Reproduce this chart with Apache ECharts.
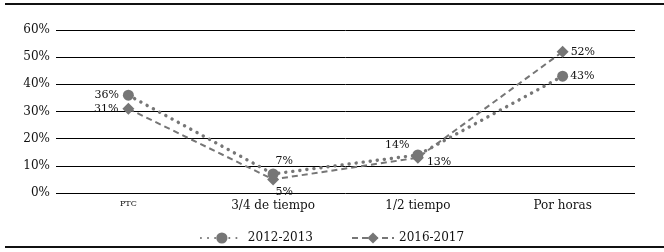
<!DOCTYPE html>
<html>
<head>
<meta charset="utf-8">
<script src="https://cdn.jsdelivr.net/npm/echarts@6/dist/echarts.min.js"></script>
<style>
  html, body { margin: 0; padding: 0; background: #fff; }
  #chart { width: 664px; height: 252px; }
</style>
</head>
<body>
<div id="chart"></div>
<script>
// datos (porcentajes)
const categorias = ['PTC', '3/4 de tiempo', '1/2 tiempo', 'Por horas'];
const serie2012 = [36, 7, 14, 43];
const serie2016 = [31, 5, 13, 52];
const ticksY = [0, 10, 20, 30, 40, 50, 60];

const fuente = 'DejaVu Serif';
const gris = '#767676';

// posición de cada etiqueta de dato
const etiq2012 = [
  { position: 'left', distance: 4 },
  { position: 'top', offset: [11, 3] },
  { position: 'left', offset: [2, -10] },
  { position: 'right', distance: 2 }
];
const etiq2016 = [
  { position: 'left', distance: 4 },
  { position: 'bottom', offset: [11, -4] },
  { position: 'right', offset: [-2, 4] },
  { position: 'right', distance: 2 }
];

const chart = echarts.init(document.getElementById('chart'));

const option = {
  animation: false,
  textStyle: { fontFamily: fuente, color: '#111' },
  grid: { left: 56, right: 29, top: 30, bottom: 59 },
  legend: {
    top: 227,
    left: 'center',
    itemWidth: 42,
    itemHeight: 14,
    itemGap: 38,
    textStyle: { fontFamily: fuente, fontSize: 12, color: '#111' },
    data: ['2012-2013', '2016-2017']
  },
  xAxis: {
    type: 'category',
    data: categorias,
    boundaryGap: true,
    axisLine: { show: false },
    axisTick: { show: false },
    axisLabel: {
      margin: 7,
      fontFamily: fuente,
      color: '#111',
      fontSize: 12,
      formatter: v => v === 'PTC' ? '{s|PTC}' : v,
      rich: { s: { fontSize: 8, fontFamily: fuente, color: '#111' } }
    }
  },
  yAxis: {
    type: 'value',
    min: ticksY[0],
    max: ticksY[ticksY.length - 1],
    interval: 10,
    axisLine: { show: false },
    axisTick: { show: false },
    axisLabel: { formatter: '{value}%', fontFamily: fuente, fontSize: 12, color: '#111', margin: 6 },
    splitLine: { lineStyle: { color: '#000', width: 1 } }
  },
  series: [
    {
      name: '2012-2013',
      type: 'line',
      data: serie2012.map((v, i) => ({ value: v, label: etiq2012[i] })),
      symbol: 'circle',
      symbolSize: 11,
      itemStyle: { color: gris },
      lineStyle: { color: gris, width: 3.4, type: [0.1, 7], cap: 'round' },
      label: { show: true, formatter: '{c}%', fontFamily: fuente, fontSize: 11, color: '#111' },
      z: 3
    },
    {
      name: '2016-2017',
      type: 'line',
      data: serie2016.map((v, i) => ({ value: v, label: etiq2016[i] })),
      symbol: 'diamond',
      symbolSize: 12,
      itemStyle: { color: gris },
      lineStyle: { color: gris, width: 2, type: [6, 4] },
      label: { show: true, formatter: '{c}%', fontFamily: fuente, fontSize: 11, color: '#111' },
      z: 2
    }
  ],
  graphic: [
    { type: 'line', shape: { x1: 5, y1: 4, x2: 664, y2: 4 }, style: { stroke: '#111', lineWidth: 2 } },
    { type: 'line', shape: { x1: 5, y1: 247, x2: 664, y2: 247 }, style: { stroke: '#111', lineWidth: 2 } }
  ]
};

chart.setOption(option);
</script>
</body>
</html>
